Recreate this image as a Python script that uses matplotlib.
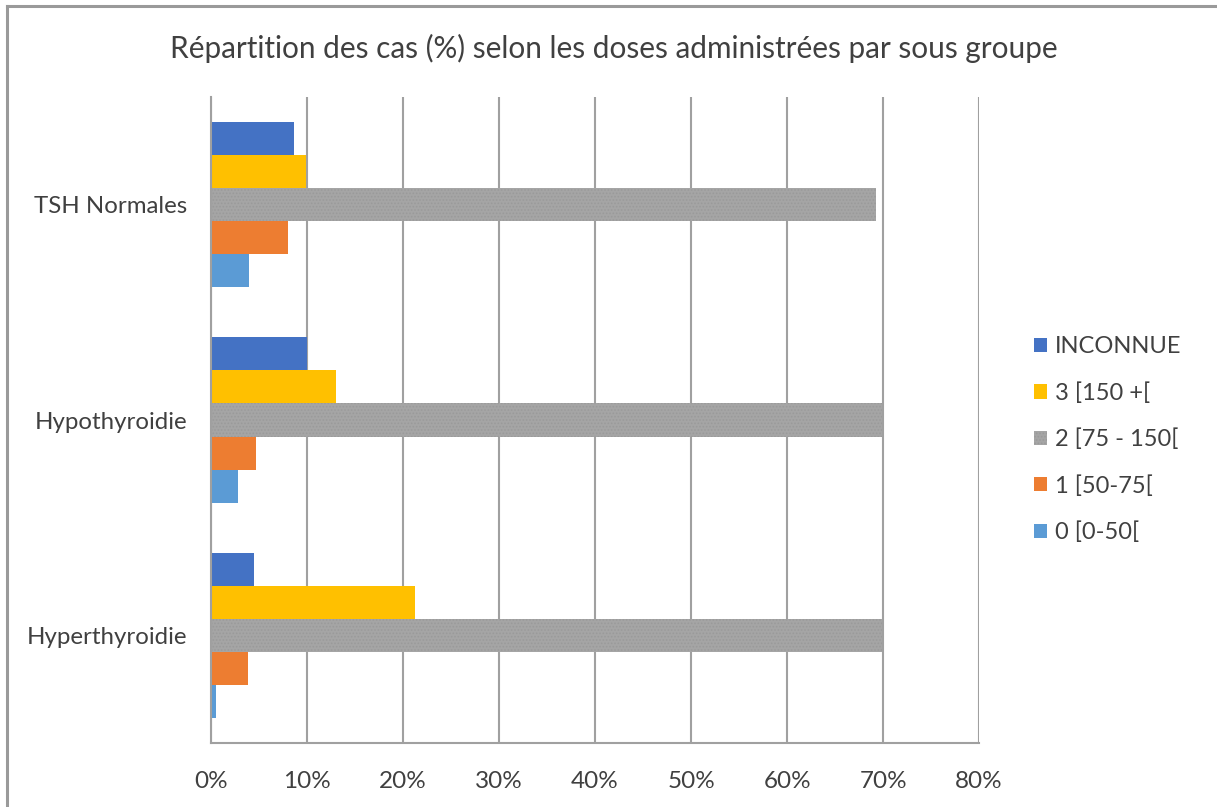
import matplotlib
matplotlib.use('Agg')
import matplotlib.pyplot as plt
from matplotlib.patches import Patch
from matplotlib.lines import Line2D
import numpy as np

plt.rcParams['font.family'] = ['Lato', 'DejaVu Sans']
plt.rcParams['hatch.linewidth'] = 0.8

# donnees (en %)
groupes = ['Hyperthyroidie', 'Hypothyroidie', 'TSH Normales']
series = ['INCONNUE', '3 [150 +[', '2 [75 - 150[', '1 [50-75[', '0 [0-50[']
inconnue = [4.5, 10.0, 8.6]
dose_3 = [21.2, 13.0, 9.9]
dose_2 = [69.9, 69.9, 69.3]
dose_1 = [3.9, 4.7, 8.0]
dose_0 = [0.5, 2.8, 4.0]
couleurs = ['#4472C4', '#FFC000', '#A5A5A5', '#ED7D31', '#5B9BD5']
xticks = [0, 10, 20, 30, 40, 50, 60, 70, 80]

valeurs = [inconnue, dose_3, dose_2, dose_1, dose_0]

fig = plt.figure(figsize=(12.17, 8.07), dpi=100)
ax = fig.add_axes([0.1734, 0.0793, 0.6311, 0.8005])

y = np.arange(len(groupes))
h = 0.1535
decalages = [2, 1, 0, -1, -2]
for vals, col, d, nom in zip(valeurs, couleurs, decalages, series):
    if nom.startswith('2'):
        ax.barh(y + d * h, vals, height=h, color=col, edgecolor='#9a9a9a',
                hatch='.....', linewidth=0, zorder=3)
    else:
        ax.barh(y + d * h, vals, height=h, color=col, linewidth=0, zorder=3)

ax.set_xlim(0, 80)
ax.set_ylim(-0.5, 2.5)
ax.set_xticks(xticks)
ax.set_xticklabels([str(t) + '%' for t in xticks], fontsize=17.5, color='#404040')
ax.set_yticks(y)
ax.set_yticklabels(groupes, fontsize=17.3, color='#404040')
ax.tick_params(axis='y', length=0, pad=17)
ax.tick_params(axis='x', length=0, pad=20)
ax.grid(axis='x', color='#a0a0a0', linewidth=1.5, zorder=0)
for s in ['top', 'right']:
    ax.spines[s].set_visible(False)
ax.spines['left'].set_color('#a0a0a0')
ax.spines['left'].set_linewidth(1.5)
ax.spines['bottom'].set_color('#a0a0a0')
ax.spines['bottom'].set_linewidth(1.5)
ax.spines['left'].set_zorder(4)

fig.suptitle('Répartition des cas (%) selon les doses administrées par sous groupe',
             x=0.504, y=0.958, fontsize=21.4, color='#404040')

poignees = []
for col, nom in zip(couleurs, series):
    if nom.startswith('2'):
        poignees.append(Patch(facecolor=col, edgecolor='#9a9a9a', hatch='.....', linewidth=0, label=nom))
    else:
        poignees.append(Patch(facecolor=col, linewidth=0, label=nom))
fig.legend(handles=poignees, loc='center left', bbox_to_anchor=(0.832, 0.455),
           frameon=False, fontsize=17, labelcolor='#404040', handlelength=0.55,
           handleheight=0.55, handletextpad=0.35, labelspacing=1.05)

# cadre du graphique
fig.add_artist(Line2D([0.006, 0.006], [0, 0.993], color='#9a9a9a', linewidth=2.2))
fig.add_artist(Line2D([0.006, 1.0], [0.993, 0.993], color='#9a9a9a', linewidth=2.2))

fig.savefig('out.png', dpi=100)
